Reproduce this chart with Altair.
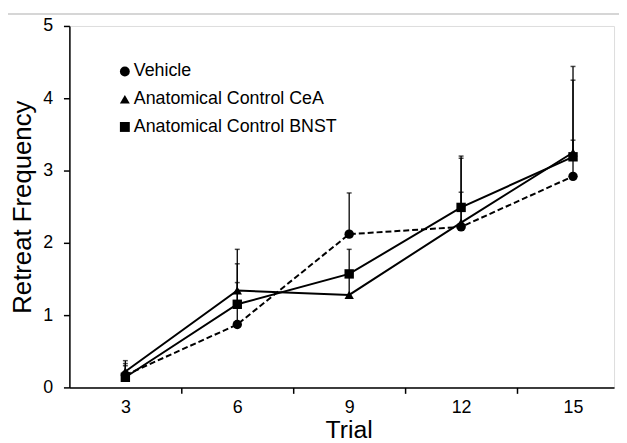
import altair as alt
import pandas as pd

trials = [3, 6, 9, 12, 15]
series_names = ["Vehicle", "Anatomical Control CeA", "Anatomical Control BNST"]

vehicle = [0.17, 0.87, 2.12, 2.22, 2.92]
vehicle_upper = [0.33, 1.45, 2.69, 3.17, 3.42]

cea = [0.22, 1.34, 1.28, 2.28, 3.25]
cea_upper = [0.37, 1.91, 1.55, 2.70, 4.44]

bnst = [0.14, 1.15, 1.57, 2.49, 3.19]
bnst_upper = [0.30, 1.71, 1.91, 3.20, 4.25]

rows = []
for name, vals, ups in [
    (series_names[0], vehicle, vehicle_upper),
    (series_names[1], cea, cea_upper),
    (series_names[2], bnst, bnst_upper),
]:
    for t, v, u in zip(trials, vals, ups):
        rows.append({"series": name, "trial": t, "value": v, "upper": u})
df = pd.DataFrame(rows)

FONT = "Liberation Sans"

x_axis = alt.Axis(
    values=[3, 4.5, 6, 7.5, 9, 10.5, 12, 13.5, 15],
    labelExpr="datum.value % 3 == 0 ? datum.label : ''",
    tickOpacity={"condition": {"test": "datum.value % 3 == 0", "value": 0}, "value": 1},
    grid=False,
    domainColor="black",
    domainWidth=1.5,
    tickColor="black",
    tickWidth=1.5,
    tickSize=6,
    labelFontSize=18,
    labelFont=FONT,
    labelColor="black",
    labelPadding=5,
    title="Trial",
    titleFont=FONT,
    titleFontSize=25,
    titleFontWeight="normal",
    titleColor="black",
    titleX=282,
    titleY=51,
    titleBaseline="alphabetic",
)

y_axis = alt.Axis(
    values=[0, 1, 2, 3, 4, 5],
    format="d",
    grid=False,
    domainColor="black",
    domainWidth=1.5,
    tickColor="black",
    tickWidth=1.5,
    tickSize=6,
    labelFontSize=18,
    labelFont=FONT,
    labelColor="black",
    labelPadding=11,
    title="Retreat Frequency",
    titleFont=FONT,
    titleFontSize=26,
    titleFontWeight="normal",
    titleColor="black",
    titlePadding=7,
)

x_enc = alt.X("trial:Q", scale=alt.Scale(domain=[1.5, 16.1], nice=False, zero=False), axis=x_axis)
y_enc = alt.Y("value:Q", scale=alt.Scale(domain=[0, 5], nice=False, zero=True), axis=y_axis)

base = alt.Chart(df)

err = base.mark_rule(color="black", strokeWidth=1.3).encode(
    x=x_enc, y=y_enc, y2="upper:Q"
)
caps = base.mark_tick(color="black", orient="horizontal", size=5, thickness=1.5).encode(
    x="trial:Q", y="upper:Q"
)
line_dashed = base.transform_filter(alt.datum.series == series_names[0]).mark_line(
    color="black", strokeWidth=2, strokeDash=[6, 3]
).encode(x="trial:Q", y="value:Q")
line_solid = base.transform_filter(alt.datum.series != series_names[0]).mark_line(
    color="black", strokeWidth=2
).encode(x="trial:Q", y="value:Q", detail="series:N")

points = base.mark_point(filled=True, size=90, opacity=1, color="black").encode(
    x="trial:Q",
    y="value:Q",
    shape=alt.Shape(
        "series:N",
        sort=series_names,
        scale=alt.Scale(domain=series_names, range=["circle", "triangle-up", "square"]),
        legend=alt.Legend(
            title=None,
            orient="none",
            legendX=47,
            legendY=37,
            labelFontSize=18,
            labelFont=FONT,
            labelColor="black",
            labelLimit=0,
            symbolSize=100,
            symbolFillColor="black",
            symbolStrokeColor="black",
            symbolOpacity=1,
            rowPadding=10,
            labelOffset=0,
        ),
    ),
)

top_line = alt.Chart(pd.DataFrame({"a": [0]})).mark_rule(color="#c8c8c8", strokeWidth=1.5).encode(
    x=alt.value(-62), x2=alt.value(560), y=alt.value(-12)
)

chart = (
    alt.layer(top_line, err, caps, line_dashed, line_solid, points)
    .properties(
        width=550,
        height=365,
        autosize=alt.AutoSizeParams(type="none"),
        padding={"left": 62, "top": 16, "right": 5, "bottom": 54},
    )
    .configure_view(stroke=None)
    .configure(background="white")
)

chart.save("out.html", embed_options={"renderer": "svg", "actions": False})
